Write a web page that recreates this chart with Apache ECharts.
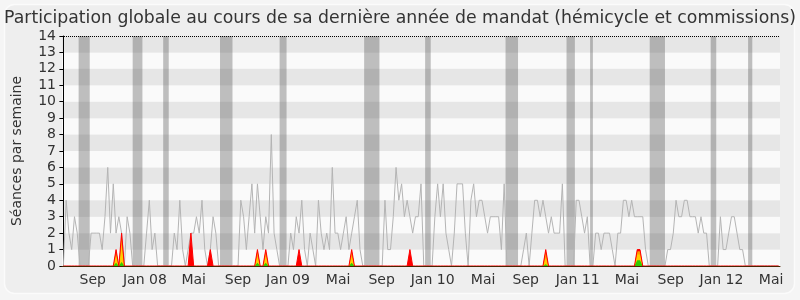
<!DOCTYPE html>
<html>
<head>
<meta charset="utf-8">
<script src="https://cdn.jsdelivr.net/npm/echarts@6/dist/echarts.min.js"></script>
<style>
html,body{margin:0;padding:0;background:#f5f5f5;}
#c{width:800px;height:300px;}
</style>
</head>
<body>
<div id="c"></div>
<script>
// Weekly sessions (hémicycle + commissions), one value per week
const presence = [
  0,4,2,1,3,2,0,0,0,0,
  2,2,2,2,1,3,6,2,5,2,
  3,2,0,3,2,0,0,0,0,0,
  2,4,1,2,0,0,0,0,0,0,
  2,1,4,1,0,1,2,2,3,2,
  4,1,0,1,3,2,0,0,0,0,
  0,0,0,0,4,3,1,3,5,2,
  5,3,1,3,2,8,2,1,0,0,
  0,0,2,1,3,2,4,1,0,2,
  1,0,4,2,1,2,1,6,2,2,
  1,2,3,1,2,3,4,1,0,0,
  0,0,0,0,0,0,4,1,1,3,
  6,4,5,3,4,3,2,3,3,5,
  0,0,0,0,3,5,3,5,2,1,
  0,2,5,5,5,2,0,4,5,3,
  4,4,3,2,3,3,3,3,1,5,
  0,0,0,0,0,0,1,2,0,2,
  4,4,3,4,3,2,3,2,2,2,
  5,0,0,0,0,4,4,3,2,3,
  0,0,2,2,1,2,2,2,1,0,
  2,2,4,4,3,4,3,3,3,3,
  1,0,0,0,0,0,0,0,1,1,
  2,4,3,3,4,4,3,3,3,2,
  3,2,2,0,0,0,0,3,1,1,
  2,3,3,2,1,1,0,0,0,0,
  0,0,0,0,0,0,0,0,0
];
// Sparse peaks [weekIndex, value] of the coloured series
const redPeaks    = [[19,1],[21,2],[46,2],[53,1],[70,1],[73,1],[85,1],[104,1],[125,1],[174,1],[207,1],[208,1]];
const orangePeaks = [[19,0.9],[21,1.8],[70,0.9],[73,0.9],[104,0.9],[174,0.9],[207,0.9],[208,0.9]];
const yellowPeaks = [[19,0.6],[21,1.3],[70,0.6],[73,0.6],[104,0.6],[174,0.5],[207,0.7],[208,0.7]];
const greenPeaks  = [[19,0.2],[21,0.25],[70,0.2],[73,0.2],[104,0.2],[174,0.1],[207,0.35],[208,0.35]];
// Holiday periods (week index ranges)
const vacations = [[5.5,9.5],[25,28.5],[36,38],[56.5,61],[78,80.5],[108.5,114],[130.5,132.5],[159.5,164],[181.5,184.5],[190,191],[211.5,217],[233.5,235.5],[247,248.5]];
// X tick labels and their week positions
const tickPos  = [10.6,29.4,47.0,63.0,81.0,99.1,114.8,133.2,151.4,166.8,185.5,203.3,219.1,237.4,255.3];
const tickText = ['Sep','Jan 08','Mai','Sep','Jan 09','Mai','Sep','Jan 10','Mai','Sep','Jan 11','Mai','Sep','Jan 12','Mai'];

const N = presence.length;
function expand(peaks){
  const arr = presence.map((_, i) => [i, 0]);
  peaks.forEach(p => { arr[p[0]][1] = p[1]; });
  return arr;
}
const FONT = 'DejaVu Sans';
const chart = echarts.init(document.getElementById('c'), null, {renderer:'canvas'});
function areaSeries(name, peaks, color, lineW, lineColor){
  return {
    name, type:'line', data: expand(peaks), symbol:'none', silent:true,
    lineStyle:{width:lineW, color:lineColor||color},
    areaStyle:{color, opacity:1},
    itemStyle:{color}, z:3
  };
}
chart.setOption({
  backgroundColor:'#f5f5f5',
  animation:false,
  graphic:[{type:'rect', z:-100, shape:{x:4.5,y:4.5,width:790,height:289,r:10},
    style:{fill:'#eeeeee', stroke:'#fbfbfb', lineWidth:1.5}}],
  title:{text:'Participation globale au cours de sa dernière année de mandat (hémicycle et commissions)',
    left:'center', top:5, textStyle:{fontFamily:FONT, fontSize:17.3, fontWeight:'normal', color:'#333'}},
  grid:{left:62, right:20, top:36, bottom:34},
  xAxis:{type:'value', min:-0.5, max:N-0.5, z:10,
    axisLine:{show:true, lineStyle:{color:'#4a2200', width:1}},
    axisTick:{show:false},
    splitLine:{show:false},
    axisLabel:{customValues:tickPos, margin:7, fontFamily:FONT, fontSize:14, color:'#333',
      formatter:(v)=>{let k=0,b=1e9;tickPos.forEach((p,j)=>{if(Math.abs(p-v)<b){b=Math.abs(p-v);k=j;}});return tickText[k];}}
  },
  yAxis:{type:'value', min:0, max:14, interval:1,
    name:'Séances par semaine', nameLocation:'middle', nameGap:38,
    nameTextStyle:{fontFamily:FONT, fontSize:14, color:'#333'},
    axisLine:{show:true, lineStyle:{color:'#000'}},
    axisTick:{show:true, length:4, lineStyle:{color:'#000'}},
    axisLabel:{fontFamily:FONT, fontSize:14, color:'#333', margin:6},
    splitLine:{show:false},
    splitArea:{show:true, areaStyle:{color:['#fafafa','#e6e6e6']}}
  },
  series:[
    {name:'presence', type:'line', data: presence.map((v,i)=>[i,v]), symbol:'none', silent:true,
      lineStyle:{color:'#b4b4b4', width:1}, itemStyle:{color:'#b4b4b4'}, z:2,
      markArea:{silent:true, itemStyle:{color:'rgba(76,76,76,0.35)'},
        data: vacations.map(v=>[{xAxis:v[0]},{xAxis:v[1]}])},
      markLine:{silent:true, symbol:['none','none'], label:{show:false},
        lineStyle:{type:'dotted', color:'#000', width:1}, data:[{yAxis:14}]}
    },
    areaSeries('red', redPeaks, '#ff0000', 1, '#ff0000'),
    areaSeries('orange', orangePeaks, '#ff9900', 0),
    areaSeries('yellow', yellowPeaks, '#ffcc00', 0),
    areaSeries('green', greenPeaks, '#33cc00', 0)
  ]
});
</script>
</body>
</html>
